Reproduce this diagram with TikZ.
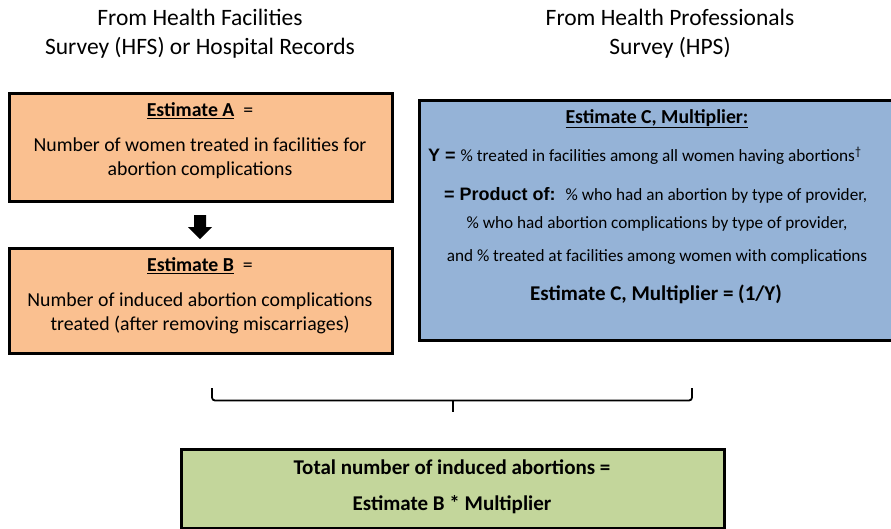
\documentclass[tikz,border=0pt]{standalone}
\usepackage{fontspec}
\setmainfont{Carlito}
\newfontfamily\arialf{Liberation Sans}
\definecolor{orangefill}{HTML}{FAC090}
\definecolor{bluefill}{HTML}{95B3D7}
\definecolor{greenfill}{HTML}{C3D69B}
\begin{document}
\begin{tikzpicture}[x=1pt,y=-1pt,
  box/.style={draw=black, line width=2.6pt, anchor=north west, inner sep=0pt},
  txt/.style={inner sep=0pt, anchor=base},
  txtl/.style={inner sep=0pt, anchor=base west},
  title/.style={txt, font=\fontsize{23.5}{27}\selectfont},
  body/.style={txt, font=\fontsize{19.8}{22}\selectfont},
  head/.style={txt, font=\fontsize{19.8}{22}\selectfont\bfseries},
  small/.style={font=\fontsize{17.2}{20}\selectfont},
  bigb/.style={font=\fontsize{21}{24}\selectfont\bfseries}]
\useasboundingbox (0,0) rectangle (891,528);
\fill[white] (0,0) rectangle (891,528);
% titles
\node[title] (t1) at (200,25) {From Health Facilities};
\node[title] (t2) at (200,54) {Survey (HFS) or Hospital Records};
\node[title] (t3) at (670,25) {From Health Professionals};
\node[title] (t4) at (670,54) {Survey (HPS)};
% box A
\node[box, fill=orangefill, minimum width=383pt, minimum height=108pt] (boxA) at (8,92) {};
\node[head] (ah) at (200,116.7) {\underline{Estimate A}\ \ \mdseries=};
\node[body] (a1) at (200,151.7) {Number of women treated in facilities for};
\node[body] (a2) at (200,175) {abortion complications};
% box B
\node[box, fill=orangefill, minimum width=383pt, minimum height=105pt] (boxB) at (8,247) {};
\node[head] (bh) at (200,271.7) {\underline{Estimate B}\ \ \mdseries=};
\node[body] (b1) at (200,306.7) {Number of induced abortion complications};
\node[body] (b2) at (200,330) {treated (after removing miscarriages)};
% arrow A -> B
\fill[black] (194,215) -- (206,215) -- (206,227) -- (212,227) -- (200,239) -- (188,227) -- (194,227) -- cycle;
% box C
\node[box, fill=bluefill, minimum width=477pt, minimum height=240pt] (boxC) at (418,99) {};
\node[head] (ch) at (657,123) {\underline{Estimate C, Multiplier:}};
\node[txtl] (c1) at (428,161.7) {{\arialf\bfseries\fontsize{18}{22}\selectfont Y =}\hspace{5pt}{\fontsize{17.2}{20}\selectfont\% treated in facilities among all women having abortions\textsuperscript{†}}};
\node[txtl] (c2) at (444,200) {{\arialf\bfseries\fontsize{18}{22}\selectfont = Product of:}\hspace{10pt}{\fontsize{17.2}{20}\selectfont\% who had an abortion by type of provider,}};
\node[txt, small] (c3) at (657,228) {\% who had abortion complications by type of provider,};
\node[txt, small] (c4) at (657,261.7) {and \% treated at facilities among women with complications};
\node[txt, bigb] (c5) at (656,300) {Estimate C, Multiplier = (1/Y)};
% brace
\coordinate (brL) at (212,388);
\coordinate (brR) at (692,388);
\coordinate (brM) at (453,412);
\draw[line width=1.8pt, rounded corners=3pt] (brL) -- (212,400.5) -- (692,400.5) -- (brR);
\draw[line width=1.8pt] (453,400.5) -- (brM);
% green box
\node[box, fill=greenfill, minimum width=543pt, minimum height=79pt] (boxD) at (180,448) {};
\node[txt, bigb] (d1) at (452,474) {Total number of induced abortions =};
\node[txt, bigb] (d2) at (452,510) {Estimate B * Multiplier};
\end{tikzpicture}
\end{document}
